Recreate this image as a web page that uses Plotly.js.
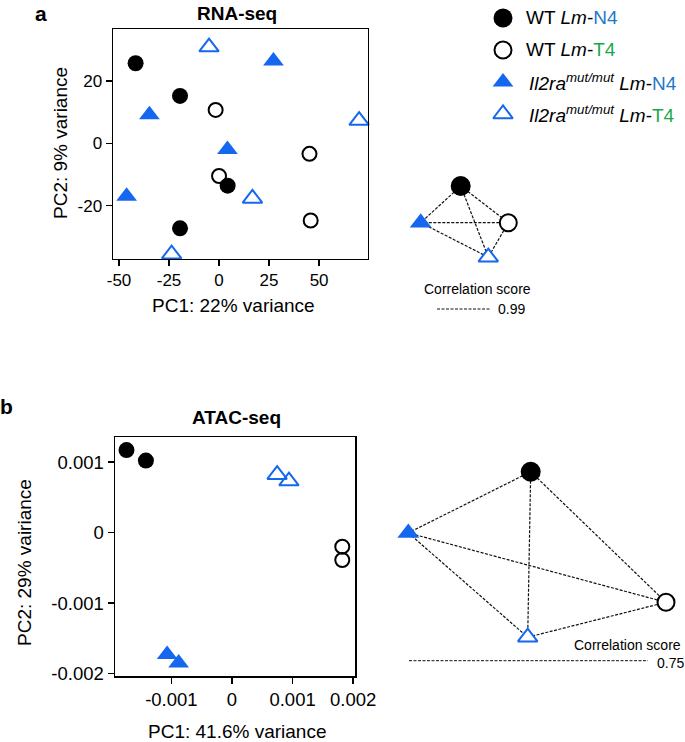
<!DOCTYPE html>
<html><head><meta charset="utf-8">
<script src="https://cdn.plot.ly/plotly-3.0.1.min.js"></script>
<style>html,body{margin:0;padding:0;background:#fff}</style>
</head><body><div id="chart" style="width:685px;height:742px"></div>
<script>
// ---- RNA-seq PCA (panel a) ----
const rnaWtN4_x  = [-41.7, -19.5, 4.3, -19.5];
const rnaWtN4_y  = [25.7, 15.2, -13.6, -27.3];
const rnaWtT4_x  = [-1.7, 0.0, 45.2, 45.8];
const rnaWtT4_y  = [10.7, -10.5, -3.4, -24.8];
const rnaMutN4_x = [27.2, -34.8, 4.2, -46.2];
const rnaMutN4_y = [26.4, 9.2, -2.0, -17.0];
const rnaMutT4_x = [-5.0, 16.7, -23.7, 70.0];
const rnaMutT4_y = [30.9, -17.7, -35.6, 7.3];
const rnaXTicks = [-50, -25, 0, 25, 50];
const rnaXLabels = ['-50', '-25', '0', '25', '50'];
const rnaYTicks = [-20, 0, 20];
const rnaYLabels = ['-20', '0', '20'];

// ---- ATAC-seq PCA (panel b) ----
const atacWtN4_x  = [-0.00174, -0.00142];
const atacWtN4_y  = [0.00117, 0.00102];
const atacWtT4_x  = [0.00182, 0.00182];
const atacWtT4_y  = [-0.00020, -0.00039];
const atacMutN4_x = [-0.00107, -0.00088];
const atacMutN4_y = [-0.00173, -0.00185];
const atacMutT4_x = [0.000745, 0.00094];
const atacMutT4_y = [0.00082, 0.00073];
const atacXTicks = [-0.001, 0, 0.001, 0.002];
const atacXLabels = ['-0.001', '0', '0.001', '0.002'];
const atacYTicks = [-0.002, -0.001, 0, 0.001];
const atacYLabels = ['-0.002', '-0.001', '0', '0.001'];

// ---- correlation networks (node layout; order: WT N4, WT T4, mut N4, mut T4) ----
const netA_x = [460.7, 508.3, 420.7, 488.3];
const netA_y = [186.0, 222.7, 222.7, 257.2];
const netB_x = [530.7, 666.0, 408.3, 527.7];
const netB_y = [471.7, 602.3, 532.9, 637.2];
const netA_score = '0.99';
const netB_score = '0.75';

const groupNames = ['WT Lm-N4', 'WT Lm-T4', 'Il2ra mut/mut Lm-N4', 'Il2ra mut/mut Lm-T4'];

const W = 685, H = 742;
const BLUE = '#1467EE', NBLUE = '#1E7AC8', GREEN = '#17A84A';
const FONT = 'Liberation Sans, Arial, sans-serif';
const styles = [
  {symbol: 'circle', color: '#000', line: {width: 0}, size: 16, opacity: 1},
  {symbol: 'circle-open', color: '#000', line: {width: 2, color: '#000'}, size: 14, opacity: 1},
  {symbol: 'triangle-up', color: BLUE, line: {width: 0}, size: 18, opacity: 1},
  {symbol: 'triangle-up-open', color: BLUE, line: {width: 2, color: BLUE}, size: 17, opacity: 1}
];
function mk(i) { return JSON.parse(JSON.stringify(styles[i])); }

const traces = [];
const drawOrder = [1, 3, 0, 2];
const rna = [[rnaWtN4_x, rnaWtN4_y], [rnaWtT4_x, rnaWtT4_y], [rnaMutN4_x, rnaMutN4_y], [rnaMutT4_x, rnaMutT4_y]];
drawOrder.forEach(i => traces.push({x: rna[i][0], y: rna[i][1], type: 'scatter', mode: 'markers', name: groupNames[i],
  marker: mk(i), xaxis: 'x', yaxis: 'y', showlegend: false, cliponaxis: false}));
const atac = [[atacWtN4_x, atacWtN4_y], [atacWtT4_x, atacWtT4_y], [atacMutN4_x, atacMutN4_y], [atacMutT4_x, atacMutT4_y]];
drawOrder.forEach(i => traces.push({x: atac[i][0], y: atac[i][1], type: 'scatter', mode: 'markers', name: groupNames[i],
  marker: mk(i), xaxis: 'x2', yaxis: 'y2', showlegend: false, cliponaxis: false}));

// network node styles (open symbols get a white fill so edges stop at the outline)
const netStyles = [
  {symbol: 'circle', color: '#000', line: {width: 0}, size: 20},
  {symbol: 'circle', color: '#fff', line: {width: 2, color: '#000'}, size: 17},
  {symbol: 'triangle-up', color: BLUE, line: {width: 0}, size: 19},
  {symbol: 'triangle-up', color: '#fff', line: {width: 2, color: BLUE}, size: 17}
];
function network(nx, ny) {
  for (let i = 0; i < nx.length; i++)
    for (let j = i + 1; j < nx.length; j++)
      traces.push({x: [nx[i], nx[j]], y: [ny[i], ny[j]], type: 'scatter', mode: 'lines',
        line: {color: '#111', width: 1.2, dash: '3px,1.5px'}, xaxis: 'x3', yaxis: 'y3', showlegend: false, hoverinfo: 'skip'});
  traces.push({x: nx, y: ny, type: 'scatter', mode: 'markers',
    marker: {symbol: netStyles.map(s => s.symbol), color: netStyles.map(s => s.color), size: netStyles.map(s => s.size),
      opacity: 1, line: {width: netStyles.map(s => s.line.width), color: ['#000', '#000', BLUE, BLUE]}},
    xaxis: 'x3', yaxis: 'y3', showlegend: false, cliponaxis: false});
}
network(netA_x, netA_y);
network(netB_x, netB_y);

// score legend lines
traces.push({x: [437, 490], y: [309, 309], type: 'scatter', mode: 'lines', line: {color: '#111', width: 1, dash: '3px,1.5px'},
  xaxis: 'x3', yaxis: 'y3', showlegend: false});
traces.push({x: [409, 648], y: [660.7, 660.7], type: 'scatter', mode: 'lines', line: {color: '#111', width: 1, dash: '3px,1.5px'},
  xaxis: 'x3', yaxis: 'y3', showlegend: false});

// legend markers
const legRowsY = [18, 50, 82, 114];
traces.push({x: [503, 503, 503, 503], y: legRowsY, type: 'scatter', mode: 'markers',
  marker: {symbol: styles.map(s => s.symbol), color: styles.map(s => s.color), size: [19, 17, 18, 17], opacity: 1,
    line: {width: [0, 2, 0, 2], color: ['#000', '#000', BLUE, BLUE]}},
  xaxis: 'x3', yaxis: 'y3', showlegend: false, cliponaxis: false});

const px = x => x / W, py = y => 1 - y / H;
function ann(x, y, text, opts) {
  return Object.assign({xref: 'paper', yref: 'paper', x: px(x), y: py(y), text: text, showarrow: false,
    font: {family: FONT, size: 19, color: '#000'}, xanchor: 'center', yanchor: 'middle'}, opts || {});
}
const legTexts = [
  'WT <i>Lm</i>-<span style="color:' + NBLUE + '">N4</span>',
  'WT <i>Lm</i>-<span style="color:' + GREEN + '">T4</span>',
  '<i>Il2ra<sup>mut/mut</sup> Lm</i>-<span style="color:' + NBLUE + '">N4</span>',
  '<i>Il2ra<sup>mut/mut</sup> Lm</i>-<span style="color:' + GREEN + '">T4</span>'
];
const small = {family: FONT, size: 14, color: '#000'};
const annotations = [
  ann(41, 13, '<b>a</b>', {font: {family: FONT, size: 21, color: '#000'}}),
  ann(237, 13, '<b>RNA-seq</b>'),
  ann(233, 305, 'PC1: 22% variance'),
  ann(61, 143, 'PC2: 9% variance', {textangle: -90}),
  ann(6, 406, '<b>b</b>', {font: {family: FONT, size: 21, color: '#000'}}),
  ann(236, 417, '<b>ATAC-seq</b>'),
  ann(237, 731, 'PC1: 41.6% variance'),
  ann(24, 563, 'PC2: 29% vairiance', {textangle: -90}),
  ann(478, 289, 'Correlation score', {font: small}),
  ann(496, 309, netA_score, {xanchor: 'left', font: small}),
  ann(573, 644.5, 'Correlation score', {xanchor: 'left', font: small, borderpad: 0}),
  ann(656, 662.5, netB_score, {xanchor: 'left', font: small, borderpad: 0})
];
legTexts.forEach((t, i) => annotations.push(ann(i < 2 ? 524 : 527, legRowsY[i], t, {xanchor: 'left'})));

const axBase = {showline: true, mirror: true, linecolor: '#000', linewidth: 1.5, ticks: 'outside', ticklen: 6,
  tickwidth: 1.5, tickcolor: '#000', showgrid: false, zeroline: false, tickmode: 'array',
  tickfont: {family: FONT, size: 17, color: '#000'}, fixedrange: true};

const layout = {
  width: W, height: H, margin: {l: 0, r: 0, t: 0, b: 0}, paper_bgcolor: '#fff', plot_bgcolor: 'rgba(0,0,0,0)',
  showlegend: false, font: {family: FONT, color: '#000'},
  xaxis: Object.assign({}, axBase, {domain: [113 / W, 367.7 / W], range: [-53, 74.3], tickvals: rnaXTicks,
    ticktext: rnaXLabels, anchor: 'y'}),
  yaxis: Object.assign({}, axBase, {domain: [1 - 258.5 / H, 1 - 29 / H], range: [-37, 36.7], tickvals: rnaYTicks,
    ticktext: rnaYLabels, anchor: 'x'}),
  xaxis2: Object.assign({}, axBase, {domain: [115 / W, 355 / W], range: [-0.00193, 0.00203], tickvals: atacXTicks,
    ticktext: atacXLabels, anchor: 'y2', tickfont: {family: FONT, size: 18.5, color: '#000'}}),
  yaxis2: Object.assign({}, axBase, {domain: [1 - 676 / H, 1 - 437 / H], range: [-0.002035, 0.001355], tickvals: atacYTicks,
    ticktext: atacYLabels, anchor: 'x2', tickfont: {family: FONT, size: 18.5, color: '#000'}}),
  xaxis3: {domain: [0, 1], range: [0, W], visible: false, fixedrange: true, anchor: 'y3'},
  yaxis3: {domain: [0, 1], range: [H, 0], visible: false, fixedrange: true, anchor: 'x3'},
  annotations: annotations
};
Plotly.newPlot('chart', traces, layout, {staticPlot: true, displayModeBar: false});
</script></body></html>
